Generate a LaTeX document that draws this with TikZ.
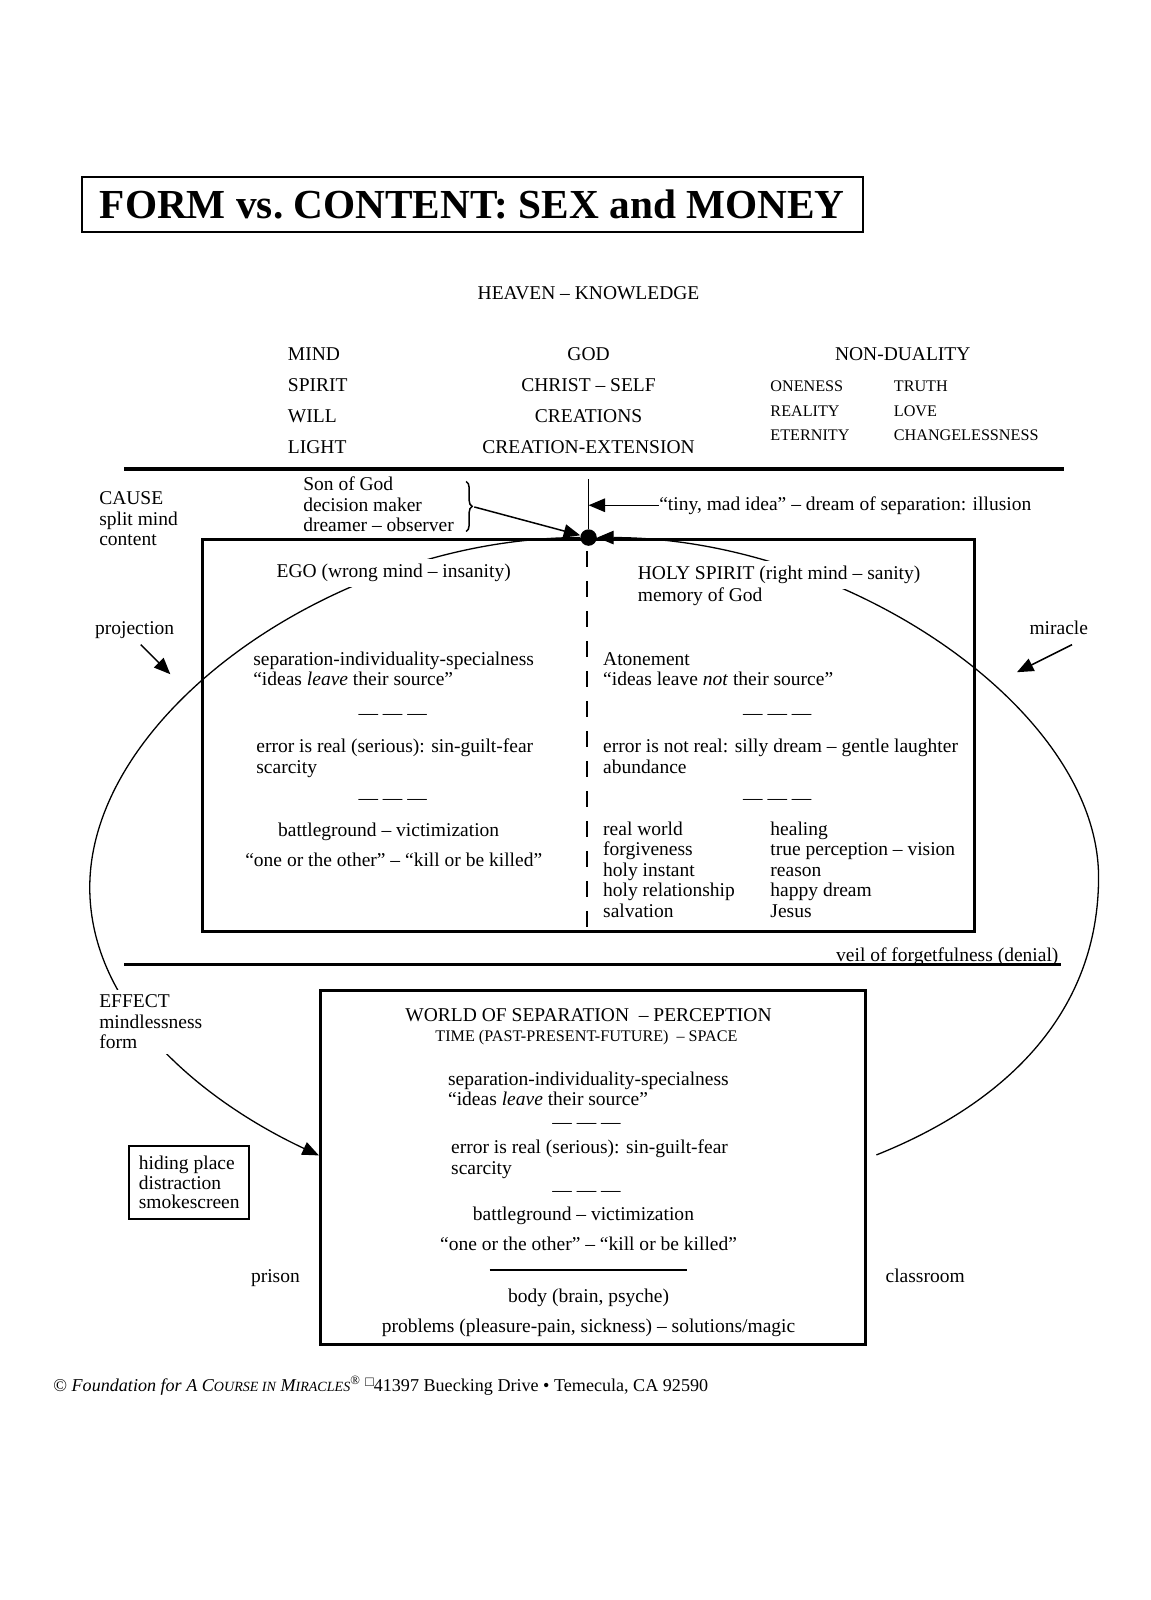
\documentclass[tikz,border=0pt]{standalone}
\usepackage{fontspec}
\setmainfont{Liberation Serif}
\usetikzlibrary{arrows.meta,backgrounds,decorations.pathreplacing,calc}
\def\txtsize{\fontsize{11.1}{11.63}\selectfont}
\def\capsize{\fontsize{11.1}{17.75}\selectfont}
\def\smallcapsize{\fontsize{9.2}{13.9}\selectfont}

\tikzset{
	lbl/.style={inner sep=0pt, anchor=base, font=\txtsize},
	lblw/.style={inner sep=0pt, anchor=base west, align=left, font=\txtsize},
	whiteout/.style={fill=white, inner ysep=3pt},
	bigbox/.style={draw, line width=0.06cm, inner sep=0pt},
	thickrule/.style={line width=0.08cm},
	loopline/.style={line width=0.026cm},
	arr/.style={line width=0.03cm, -{Triangle[length=0.33cm,width=0.27cm]}},
}

\begin{document}
\begin{tikzpicture}[x=0.0204cm, y=-0.0204cm]
		%%%%% START %%%%%
		\useasboundingbox (0,0) rectangle (1127.5,1568.6);
		
		\node[draw, line width=0.04cm, minimum width=15.63cm, minimum height=1.1cm, font=\fontsize{23.5}{26}\selectfont\bfseries] (title) at (463,200) {FORM vs.\ CONTENT: SEX and MONEY};
		
		\node[lbl] (heaven) at (577,294) {HEAVEN -- KNOWLEDGE};
		% multi-line nodes sit on the baseline of their last line
		\node[lblw, font=\capsize] (colmind) at (282,445) {MIND\\SPIRIT\\WILL\\LIGHT};
		\node[lbl, align=center, font=\capsize] (colgod) at (577,445) {GOD\\CHRIST -- SELF\\CREATIONS\\CREATION-EXTENSION};
		\node[lbl] (nondual) at (885,353) {NON-DUALITY};
		\node[lblw, font=\smallcapsize] (colone) at (755,432) {ONENESS\\REALITY\\ETERNITY};
		\node[lblw, font=\smallcapsize] (coltruth) at (876,432) {TRUTH\\LOVE\\CHANGELESSNESS};
		
		\draw[thickrule] (122,460) -- (1043,460);
		
		\node[lblw] (cause) at (97,535) {CAUSE\\split mind\\content};
		\node[lblw] (sog) at (297,521) {Son of God\\decision maker\\dreamer -- observer};
		\draw[decorate, decoration={brace, amplitude=0.12cm}, line width=0.03cm] (457,472) -- (457,521);
		\coordinate (bracetip) at (465,497);
		
		\node[fill, circle, inner sep=0pt, minimum size=0.33cm] (dot) at (577,527) {};
		\draw[line width=0.03cm] (577,470) -- (dot);
		\draw[arr] (bracetip) -- (dot.165);
		\node[lblw] (tiny) at (646,500) {“tiny, mad idea” -- dream of separation: illusion};
		\draw[arr] (tiny.west) -- (tiny.west -| dot.north);
		
		% split mind
		\node[bigbox, minimum width=15.44cm, minimum height=7.83cm] (mindbox) at (576.5,721) {};
		\draw[line width=0.04cm, dash pattern=on 0.32cm off 0.28cm] (575,540) -- (575,910);
		
		\node[lbl, whiteout] (ego) at (386,566) {EGO (wrong mind -- insanity)};
		\node[lblw, whiteout] (hs) at (625,568) {HOLY SPIRIT (right mind -- sanity)};
		\node[lblw] (hsmem) at (625,590) {memory of God};
		
		\node[lblw] (sepL) at (248,672) {separation-individuality-specialness\\“ideas \textit{leave} their source”};
		\node[lbl] (dashL1) at (385,705) {--- --- ---};
		\node[lblw] (errL) at (251,758) {error is real (serious): sin-guilt-fear\\scarcity};
		\node[lbl] (dashL2) at (385,789) {--- --- ---};
		\node[lbl] (battleL) at (381,820) {battleground -- victimization};
		\node[lbl] (oneL) at (386,849) {“one or the other” -- “kill or be killed”};
		
		\node[lblw] (atone) at (591,672) {Atonement\\“ideas leave \textit{not} their source”};
		\node[lbl] (dashR1) at (762,705) {--- --- ---};
		\node[lblw] (errR) at (591,758) {error is not real: silly dream -- gentle laughter\\abundance};
		\node[lbl] (dashR2) at (762,789) {--- --- ---};
		\node[lblw] (listR1) at (591,899) {real world\\forgiveness\\holy instant\\holy relationship\\salvation};
		\node[lblw] (listR2) at (755,899) {healing\\true perception -- vision\\reason\\happy dream\\Jesus};
		
		\node[lbl] (projection) at (132,622) {projection};
		\coordinate (projtip) at (167,661);
		\draw[arr] (138,632) -- (projtip);
		\node[lbl] (miracle) at (1038,622) {miracle};
		\coordinate (miractip) at (997,659);
		\draw[arr] (1051,632) -- (miractip);
		
		\draw[line width=0.06cm] (122,946) -- (1040,946);
		\node[lbl, anchor=base east] (veil) at (1038,943) {veil of forgetfulness (denial)};
		
		\node[lblw, whiteout] (effect) at (97,1028) {EFFECT\\mindlessness\\form};
		
		% world
		\node[bigbox, minimum width=10.91cm, minimum height=7.08cm] (world) at (581.5,1144.5) {};
		\node[lbl] (worldT) at (577,1001) {WORLD OF SEPARATION \ -- PERCEPTION};
		\node[lbl, font=\fontsize{9.2}{11}\selectfont] (timeT) at (575,1021) {TIME (PAST-PRESENT-FUTURE) \ -- SPACE};
		\node[lblw] (sepW) at (439,1084) {separation-individuality-specialness\\“ideas \textit{leave} their source”};
		\node[lbl] (dashW1) at (575,1106) {--- --- ---};
		\node[lblw] (errW) at (442,1151) {error is real (serious): sin-guilt-fear\\scarcity};
		\node[lbl] (dashW2) at (575,1173) {--- --- ---};
		\node[lbl] (battleW) at (572,1197) {battleground -- victimization};
		\node[lbl] (oneW) at (577,1226) {“one or the other” -- “kill or be killed”};
		\draw[line width=0.03cm] (480,1245) -- (674,1245);
		\node[lbl] (body) at (577,1277) {body (brain, psyche)};
		\node[lbl] (problems) at (577,1306) {problems (pleasure-pain, sickness) -- solutions/magic};
		
		\node[draw, line width=0.04cm, minimum width=2.39cm, minimum height=1.45cm, align=left, inner sep=0pt, font=\fontsize{11.1}{11.1}\selectfont] (hiding) at (185.5,1159.5) {hiding place\\distraction\\smokescreen};
		\node[lbl] (prison) at (270,1257) {prison};
		\node[lbl] (classroom) at (907,1257) {classroom};
		
		\node[lblw, font=\fontsize{10.3}{12}\selectfont] (footer) at (52,1364) {© \textit{Foundation for A C{\footnotesize OURSE IN} M{\footnotesize IRACLES}}\textsuperscript{®} \raisebox{0.6ex}{\footnotesize □}41397 Buecking Drive • Temecula, CA 92590};
		
		\begin{pgfonlayer}{background}
			\draw[loopline, -{Triangle[length=0.33cm,width=0.27cm]}] (dot.west) .. controls (332,527) and (88,698) .. (88,870) .. controls (88,990) and (200,1080) .. ([yshift=0.24cm]world.west);
			\draw[loopline, -{Triangle[length=0.33cm,width=0.27cm]}] ([xshift=0.18cm,yshift=0.25cm]world.east) .. controls (990,1080) and (1077,990) .. (1077,860) .. controls (1077,694) and (827,527) .. (dot.east);
		\end{pgfonlayer}
		
		%%%%% END %%%%%
\end{tikzpicture}
\end{document}
